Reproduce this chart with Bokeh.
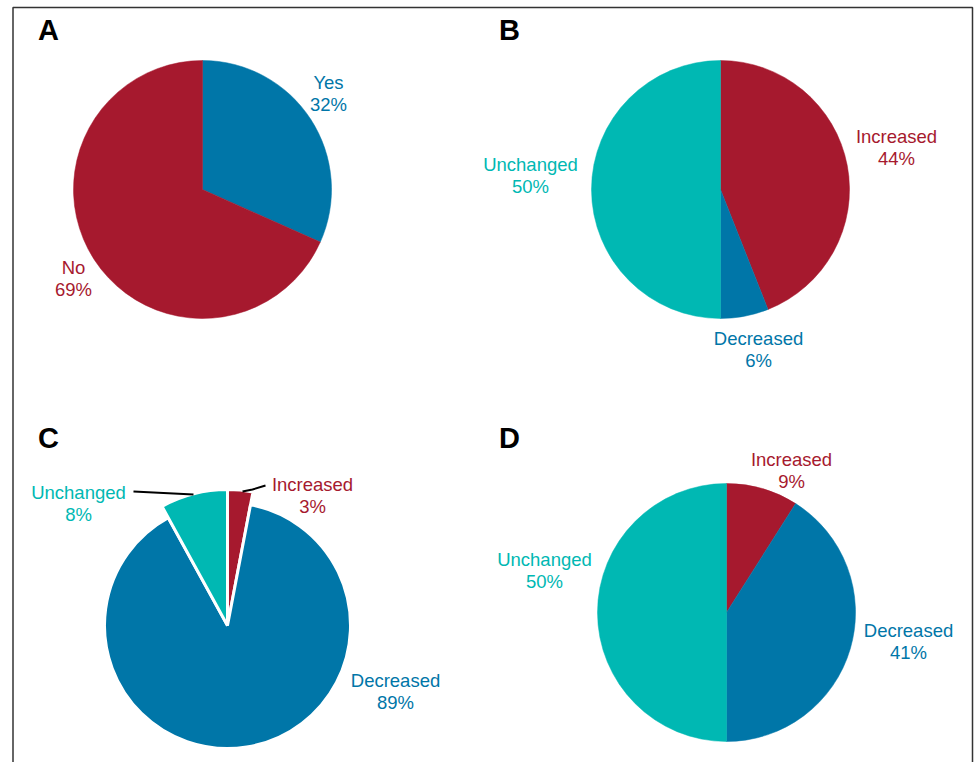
import math
from bokeh.plotting import figure
from bokeh.models import Range1d
from bokeh.core.properties import value
from bokeh.embed import file_html
from bokeh.resources import INLINE

# ---- data ----
panel_letters = ["A", "B", "C", "D"]
a_cats = ["Yes", "No"]
a_vals = [32, 69]
b_cats = ["Increased", "Decreased", "Unchanged"]
b_vals = [44, 6, 50]
c_cats = ["Increased", "Decreased", "Unchanged"]
c_vals = [3, 89, 8]
d_cats = ["Increased", "Decreased", "Unchanged"]
d_vals = [9, 41, 50]

RED = "#A6192E"
BLUE = "#0076A8"
TEAL = "#00B8B3"
cat_color = {"Yes": BLUE, "No": RED, "Increased": RED, "Decreased": BLUE, "Unchanged": TEAL}

W, H = 976, 762
p = figure(width=W, height=H, output_backend="svg", toolbar_location=None,
           x_range=Range1d(0, W), y_range=Range1d(0, H), min_border=0)
p.axis.visible = False
p.grid.visible = False
p.outline_line_color = None
p.background_fill_color = "white"

def Y(y):
    return H - y

FONT = value("Liberation Sans")

# frame (open at the bottom)
p.line([12.5, 12.5, 972, 972], [Y(765), Y(7), Y(7), Y(765)], line_color="#333333", line_width=1.5)

# panel letters
for letter, (lx, ly) in zip(panel_letters, [(48, 29), (509, 29), (48, 437), (509, 437)]):
    p.text(x=[lx], y=[Y(ly)], text=[letter], text_font=FONT, text_font_style="bold",
           text_font_size="29px", text_align="center", text_baseline="middle", text_color="black")

def draw_pie(cx, cy, r, cats, vals, radii=None, border=0):
    total = float(sum(vals))
    cum = 0.0
    for i, (c, v) in enumerate(zip(cats, vals)):
        c0 = cum / total
        cum += v
        c1 = cum / total
        start = math.pi / 2 - 2 * math.pi * c1
        end = math.pi / 2 - 2 * math.pi * c0
        rr = radii[i] if radii else r
        p.wedge(x=[cx], y=[Y(cy)], radius=rr, radius_units="screen", start_angle=start, end_angle=end,
                fill_color=cat_color[c], line_color="white" if border else cat_color[c],
                line_width=border if border else 0.5)

def label(x, y, cat, val):
    col = cat_color[cat]
    p.text(x=[x], y=[Y(y)], text=[cat], text_font=FONT, text_font_size="18.5px",
           text_align="center", text_baseline="middle", text_color=col)
    p.text(x=[x], y=[Y(y + 22)], text=["%d%%" % val], text_font=FONT, text_font_size="18.5px",
           text_align="center", text_baseline="middle", text_color=col)

# A
draw_pie(202, 189, 129, a_cats, a_vals)
label(328, 82, a_cats[0], a_vals[0])
label(73, 267, a_cats[1], a_vals[1])

# B
draw_pie(720, 189, 129, b_cats, b_vals)
label(896, 136, b_cats[0], b_vals[0])
label(758, 338, b_cats[1], b_vals[1])
label(530, 164, b_cats[2], b_vals[2])

# C (small slices pulled out)
draw_pie(227, 625, 123, c_cats, c_vals, radii=[136, 123, 136], border=3)
p.line([242, 252, 265], [Y(491), Y(489), Y(485)], line_color="black", line_width=2)
p.line([133, 193], [Y(491), Y(494)], line_color="black", line_width=2)
label(312, 484, c_cats[0], c_vals[0])
label(395, 680, c_cats[1], c_vals[1])
label(78, 492, c_cats[2], c_vals[2])

# D
draw_pie(726, 612, 129, d_cats, d_vals)
label(791, 459, d_cats[0], d_vals[0])
label(908, 630, d_cats[1], d_vals[1])
label(544, 559, d_cats[2], d_vals[2])

open("out.html", "w").write(file_html(p, INLINE))
